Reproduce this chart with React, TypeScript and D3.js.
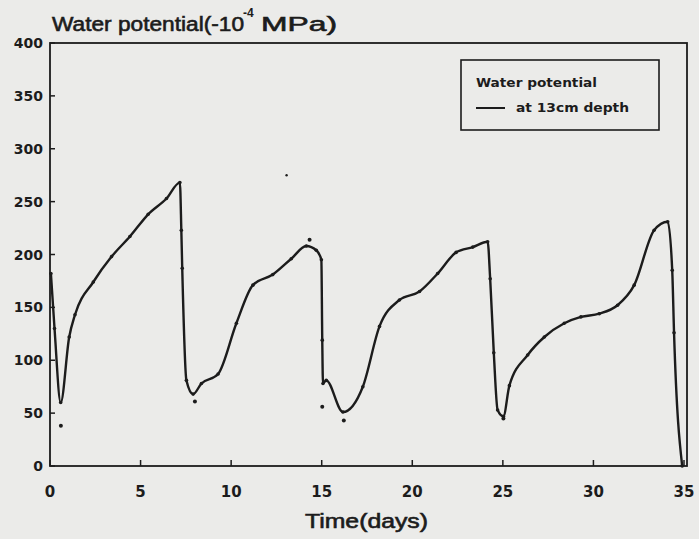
import React from "react";
import * as d3 from "d3";

// Water potential at 13cm depth (curve), time in days
const curveDays = [0.05, 0.25, 0.59, 1.06, 1.38, 2.39, 3.4, 4.41, 5.42, 6.43, 7.17, 7.25, 7.3, 7.53, 7.9, 8.36, 9.28, 10.29, 11.2, 12.3, 13.32, 14.15, 14.7, 14.98, 15.03, 15.07, 15.25, 16.17, 17.27, 18.19, 19.29, 20.4, 21.4, 22.42, 23.34, 24.16, 24.3, 24.5, 24.71, 25.03, 25.36, 26.37, 27.29, 28.39, 29.31, 30.32, 31.33, 32.25, 33.35, 34.1, 34.35, 34.45, 34.9];
const curveValues = [182, 130, 60, 122, 143, 174, 198, 217, 238, 253, 268, 223, 187, 81, 68, 78, 87, 135, 171, 181, 196, 208, 204, 195, 119, 78, 81, 51, 75, 132, 157, 165, 182, 202, 207, 212, 177, 107, 53, 47, 76, 105, 122, 135, 141, 144, 152, 171, 223, 231, 185, 126, 0];

// Isolated measured points off the curve
const dotDays = [0.6, 8.0, 14.33, 15.03, 16.22, 25.03, 13.06];
const dotValues = [38, 61, 214, 56, 43, 45, 275];

const xTicks = [0, 5, 10, 15, 20, 25, 30, 35];
const yTicks = [0, 50, 100, 150, 200, 250, 300, 350, 400];

const W = 699;
const H = 539;
const INK = "#1c1c1c";
const FONT = "'DejaVu Sans', 'Liberation Sans', Arial, sans-serif";
const TFONT = "'Liberation Sans', Arial, sans-serif";

export default function App() {
  const x = d3.scaleLinear().domain([0, 35]).range([50, 684]);
  const y = d3.scaleLinear().domain([0, 400]).range([466, 43]);
  const pts: [number, number][] = curveDays.map((d, i) => [d, curveValues[i]]);
  const line = d3
    .line<[number, number]>()
    .x((d) => x(d[0]))
    .y((d) => y(d[1]))
    .curve(d3.curveMonotoneX);
  const left = 50;
  const right = 687;
  const top = 43;
  const bottom = 466;
  const titleStyle = { stroke: INK, strokeWidth: 0.6 };
  return (
    <svg
      width={W}
      height={H}
      style={{ position: "absolute", left: 0, top: 0 }}
      fontFamily={FONT}
    >
      <rect x={0} y={0} width={W} height={H} fill="#ebebe9" />
      {/* frame */}
      <rect x={left} y={top} width={right - left} height={bottom - top} fill="none" stroke={INK} strokeWidth={1.8} />
      {/* y ticks */}
      {yTicks.map((t) => (
        <g key={"y" + t}>
          <line x1={left} x2={left + 5} y1={y(t)} y2={y(t)} stroke={INK} strokeWidth={1.5} />
          <text x={43} y={y(t)} dy="0.36em" textAnchor="end" fontSize={14} fontWeight="bold" fill={INK}>
            {t}
          </text>
        </g>
      ))}
      {/* x ticks */}
      {xTicks.map((t) => (
        <g key={"x" + t}>
          <line x1={x(t)} x2={x(t)} y1={bottom} y2={bottom - 6} stroke={INK} strokeWidth={1.5} />
          <text x={x(t)} y={497} textAnchor="middle" fontSize={15} fontWeight="bold" fill={INK}>
            {t}
          </text>
        </g>
      ))}
      {/* title */}
      <text x={52} y={31} fontSize={20} fill={INK} fontFamily={TFONT} textLength={192} lengthAdjust="spacingAndGlyphs" style={titleStyle}>
        Water potential(-10
      </text>
      <text x={243} y={17} fontSize={12} fill={INK} fontWeight="bold" fontFamily={TFONT}>-4</text>
      <text x={261} y={31} fontSize={20} fill={INK} fontFamily={TFONT} textLength={76} lengthAdjust="spacingAndGlyphs" style={titleStyle}>
        MPa)
      </text>
      {/* x axis title */}
      <text x={305} y={528} fontSize={20} fill={INK} fontFamily={TFONT} textLength={123} lengthAdjust="spacingAndGlyphs" style={titleStyle}>
        Time(days)
      </text>
      {/* legend */}
      <rect x={461} y={60} width={198} height={70} fill="none" stroke={INK} strokeWidth={1.6} />
      <text x={476} y={87} fontSize={11.5} fontWeight="bold" fill={INK} textLength={121} lengthAdjust="spacingAndGlyphs">
        Water potential
      </text>
      <line x1={476} x2={505} y1={108} y2={108} stroke={INK} strokeWidth={2} />
      <text x={516} y={112} fontSize={11.5} fontWeight="bold" fill={INK} textLength={113} lengthAdjust="spacingAndGlyphs">
        at 13cm depth
      </text>
      {/* curve */}
      <path d={line(pts) ?? ""} fill="none" stroke={INK} strokeWidth={2.4} strokeLinejoin="round" />
      {pts.map((p, i) => (
        <circle key={"m" + i} cx={x(p[0])} cy={y(p[1])} r={1.8} fill={INK} />
      ))}
      {dotDays.map((d, i) => (
        <circle key={"d" + i} cx={x(d)} cy={y(dotValues[i])} r={i === 6 ? 1.2 : 2} fill={INK} />
      ))}
    </svg>
  );
}
